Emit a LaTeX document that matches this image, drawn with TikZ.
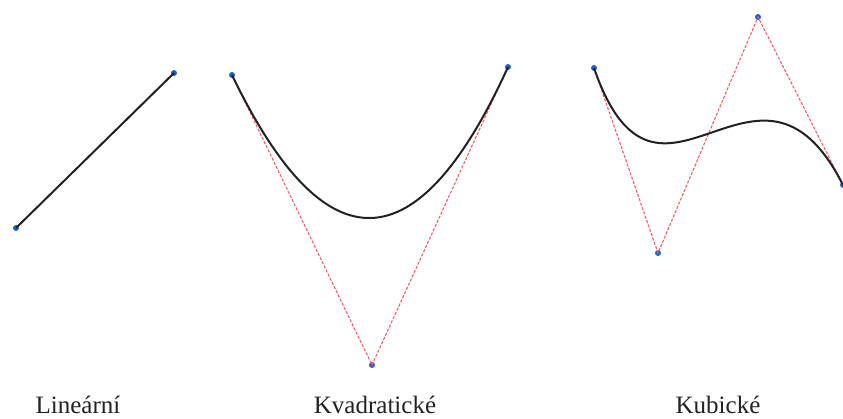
\documentclass[tikz,border=0pt]{standalone}
\usepackage{fontspec}
\setmainfont{Liberation Serif}
\usepackage{xcolor}
\usetikzlibrary{calc}
\definecolor{ink}{HTML}{222222}
\definecolor{hull}{HTML}{F0606A}
\definecolor{dot}{HTML}{1F62C8}

\begin{document}
\begin{tikzpicture}[
  x=1pt,y=-1pt,
  curve/.style={line width=2pt,draw=ink},
  polygon/.style={line width=1.1pt,draw=hull,dash pattern=on 3pt off 1.6pt},
  ctrl/.style={circle,fill=dot,inner sep=0pt,minimum size=6pt},
  caption/.style={font=\fontsize{25}{28}\selectfont,text=ink,anchor=base}
]
\useasboundingbox (0,0) rectangle (843,418);

% Linear
\node[ctrl] (l0) at (16,228) {};
\node[ctrl] (l1) at (174,73) {};
\draw[curve] (l0.center) -- (l1.center);

% Quadratic
\node[ctrl] (q0) at (232,75) {};
\node[ctrl] (q1) at (372,365) {};
\node[ctrl] (q2) at (508,67) {};
\draw[polygon] (q0.center) -- (q1.center) -- (q2.center);
\draw[curve] (q0.center) .. controls ($(q0)!2/3!(q1)$) and ($(q2)!2/3!(q1)$) .. (q2.center);

% Cubic
\node[ctrl] (c0) at (594,68) {};
\node[ctrl] (c1) at (658,253) {};
\node[ctrl] (c2) at (758,17) {};
\node[ctrl] (c3) at (843,185) {};
\draw[polygon] (c0.center) -- (c1.center) -- (c2.center) -- (c3.center);
\draw[curve] (c0.center) .. controls (c1.center) and (c2.center) .. (c3.center);

% Captions
\node[caption] (linear) at (78,413) {Lineární};
\node[caption] (quadratic) at (375,413) {Kvadratické};
\node[caption] (cubic) at (718,413) {Kubické};

\end{tikzpicture}
\end{document}
